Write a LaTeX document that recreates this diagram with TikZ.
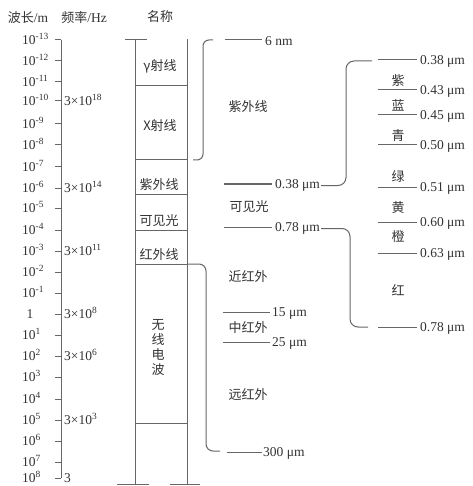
\documentclass[tikz,border=0pt]{standalone}
\usepackage{fontspec}
\setmainfont{Liberation Serif}
\newfontfamily\cjk{Noto Sans CJK SC}
\begin{document}
\begin{tikzpicture}[x=1pt,y=-1pt,
  ln/.style={draw=black!60,line width=1pt},
  lbl/.style={font=\fontsize{13.5}{15}\selectfont,text=black!80,inner sep=0pt},
  zh/.style={font=\fontsize{13}{15}\selectfont\cjk,text=black!80,inner sep=0pt},
  val/.style={lbl,anchor=west},
]
\useasboundingbox[fill=white] (0,0) rectangle (472,486);

% headers
\node[lbl] (h1) at (28,18) {{\cjk\fontsize{13}{15}\selectfont 波长}/m};
\node[lbl] (h2) at (84,18) {{\cjk\fontsize{13}{15}\selectfont 频率}/Hz};
\node[zh] (h3) at (160,17) {名称};

% left axis
\draw[ln] (61,40) -- (61,478);
\foreach \y/\e/\n in {40/-13/1,61/-12/2,82/-11/3,101/-10/4,124/-9/5,145/-8/6,167/-7/7,188/-6/8,208/-5/9,230/-4/10,251/-3/11,272/-2/12,293/-1/13,335/1/15,356/2/16,377/3/17,399/4/18,420/5/19,441/6/20,462/7/21,478/8/22}{
  \draw[ln] (55,\y) -- (61,\y);
  \node[lbl,anchor=base west] (w\n) at (22,\y+4.6) {10\textsuperscript{\e}};
}
\draw[ln] (55,314) -- (61,314);
\node[lbl,anchor=base] (w14) at (30,318.6) {1};

\foreach \y/\e/\n in {101/18/1,188/14/2,251/11/3,314/8/4,356/6/5,420/3/6}{
  \node[lbl,anchor=base west] (f\n) at (64,\y+4.6) {3×10\textsuperscript{\e}};
}
\node[lbl,anchor=base west] (f7) at (64,478+4.6) {3};

% name column
\draw[ln] (135,40) -- (135,484);
\draw[ln] (187,39) -- (187,484);
\draw[ln] (125,40) -- (147,40);
\draw[ln] (117,484) -- (149,484);
\draw[ln] (170,484) -- (200,484);
\foreach \y in {86,160,194,230,264,423}{
  \draw[ln] (135,\y) -- (187,\y);
}
\node[zh] (c1) at (160,66) {γ射线};
\node[zh] (c2) at (160,126) {X射线};
\node[zh] (c3) at (159,185) {紫外线};
\node[zh] (c4) at (159,221) {可见光};
\node[zh] (c5) at (159,255) {红外线};
\node[zh,align=center,font=\fontsize{13}{15}\selectfont\cjk] (c6) at (158,348) {无\\线\\电\\波};

% UV bracket
\draw[ln,rounded corners=6] (213,40) -| (203,160) -- (193,160);
% IR bracket
\draw[ln,rounded corners=7] (188,264) -| (206,451) -- (220,451);

% middle values
\draw[ln] (225,40) -- (262,40);
\node[val] (m6) at (265,41) {6 nm};
\node[zh] (muv) at (248,107) {紫外线};
\draw[ln] (224,184) -- (272,184);
\node[val] (m038) at (275,185.5) {0.38 μm};
\node[zh] (mvis) at (249,207) {可见光};
\draw[ln] (224,227) -- (272,227);
\node[val] (m078) at (275,228.5) {0.78 μm};
\node[zh] (mnir) at (248,277) {近红外};
\draw[ln] (223,312) -- (270,312);
\node[val] (m15) at (272,313) {15 μm};
\node[zh] (mmir) at (248,328) {中红外};
\draw[ln] (223,342) -- (270,342);
\node[val] (m25) at (272,343) {25 μm};
\node[zh] (mfir) at (248,395) {远红外};
\draw[ln] (227,452) -- (262,452);
\node[val] (m300) at (263,453) {300 μm};

% visible bracket and infrared bracket to the right
\draw[ln,rounded corners=8] ([xshift=1pt]m038.east) -| (346,61) -- (372,61);
\draw[ln,rounded corners=8] ([xshift=1pt]m078.east) -| (350,327) -- (368,327);

% right scale
\foreach \y/\t/\n in {60/0.38/1,90/0.43/2,115/0.45/3,145/0.50/4,187/0.51/5,222/0.60/6,253/0.63/7,327/0.78/8}{
  \draw[ln] (378,\y) -- (417,\y);
  \node[val] (r\n) at (420,\y+1) {\t\ μm};
}
\node[zh] (k1) at (398,81) {紫};
\node[zh] (k2) at (398,105) {蓝};
\node[zh] (k3) at (398,136) {青};
\node[zh] (k4) at (398,177) {绿};
\node[zh] (k5) at (398,208) {黄};
\node[zh] (k6) at (398,237) {橙};
\node[zh] (k7) at (398,290) {红};
\end{tikzpicture}
\end{document}
